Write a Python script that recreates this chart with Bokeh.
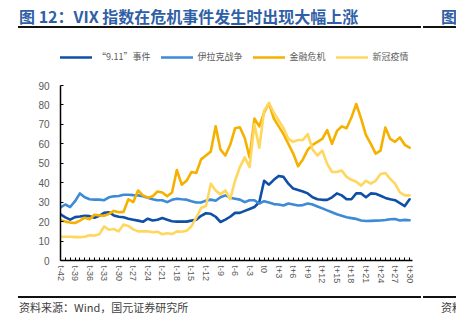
from bokeh.plotting import figure
from bokeh.layouts import column
from bokeh.models import Range1d, Legend, LegendItem, FixedTicker, Div
from bokeh.embed import file_html
from bokeh.resources import INLINE

# ---- data ----
offsets = list(range(-42, 31))
t_labels = ["t%+d" % o if o != 0 else "t0" for o in offsets]
series_names = ["“9.11”事件", "伊拉克战争", "金融危机", "新冠疫情"]
title_text = "图 12：VIX 指数在危机事件发生时出现大幅上涨"
source_text = "资料来源：Wind，国元证券研究所"

vix_911 = [23.8, 22.2, 21.0, 22.3, 22.6, 23.0, 22.8, 22.0, 23.0, 24.5,
           24.8, 23.2, 22.5, 22.2, 21.5, 21.0, 20.5, 19.9, 21.5, 20.6,
           21.0, 21.8, 21.0, 20.2, 20.0, 20.0, 20.0, 20.5, 21.0, 23.0,
           24.3, 24.0, 22.5, 19.8, 21.0, 22.5, 24.5, 24.5, 25.5, 26.5,
           27.5, 30.0, 41.0, 39.0, 41.5, 43.5, 43.0, 39.5, 37.0, 36.3,
           35.5, 34.5, 32.5, 31.5, 31.2, 31.2, 32.5, 34.5, 33.5, 31.5,
           31.5, 34.5, 34.5, 32.5, 34.5, 34.3, 33.3, 32.2, 31.5, 31.0,
           29.5, 28.0, 31.5]

vix_iraq = [27.3, 28.8, 27.5, 30.5, 34.5, 32.5, 31.5, 31.3, 31.3, 31.0,
            32.5, 33.0, 33.2, 33.8, 33.8, 33.6, 33.5, 33.0, 32.3, 31.5,
            31.0, 31.0, 30.0, 31.2, 31.8, 31.5, 31.3, 30.5, 29.8, 29.8,
            30.8, 31.3, 30.7, 32.5, 33.5, 32.3, 31.8, 31.3, 30.0, 31.0,
            31.0, 29.3, 30.5, 29.8, 29.0, 28.8, 28.3, 29.3, 28.8, 28.3,
            28.5, 29.3, 28.8, 27.8, 26.8, 25.8, 24.8, 23.8, 23.0, 22.2,
            21.8, 21.4, 20.6, 20.3, 20.4, 20.5, 20.6, 20.8, 21.2, 21.3,
            20.6, 20.9, 20.7]

vix_gfc = [20.7, 20.0, 19.5, 19.3, 20.5, 22.0, 21.2, 23.5, 23.2, 23.0,
           24.0, 25.5, 24.8, 25.0, 31.5, 30.0, 36.0, 33.5, 32.3, 33.0,
           35.5, 35.0, 33.0, 35.0, 46.5, 39.0, 41.0, 45.5, 45.0, 52.0,
           54.0, 56.0, 69.0, 57.0, 54.0, 59.5, 68.0, 68.5, 63.0, 53.0,
           73.0, 69.0, 76.0, 81.0, 73.0, 69.0, 65.0, 60.0, 55.0, 48.5,
           52.0, 57.0, 59.5, 61.0, 62.5, 67.0, 60.0, 66.5, 69.0, 68.0,
           73.5, 80.5, 73.0, 64.5, 60.0, 55.0, 56.5, 68.4, 62.5, 61.0,
           63.3, 59.5, 58.0]

vix_covid = [12.2, 12.2, 12.2, 12.0, 12.0, 12.2, 13.0, 12.8, 13.5, 17.5,
             15.8, 16.2, 15.0, 18.5, 17.8, 16.0, 15.0, 15.0, 15.0, 14.5,
             14.8, 13.5, 14.0, 13.6, 15.0, 14.8, 15.3, 17.5, 22.0, 27.0,
             28.0, 39.5, 36.0, 34.0, 36.0, 31.5, 41.0, 48.0, 53.0, 48.0,
             70.0, 58.0, 77.0, 81.0, 76.0, 72.0, 68.0, 62.5, 61.0, 62.0,
             62.0, 65.0, 57.0, 54.0, 56.5, 49.7, 45.5, 45.5, 46.3, 43.0,
             41.5, 40.5, 38.5, 41.0, 39.5, 41.0, 44.5, 45.0, 42.0, 39.5,
             35.0, 33.5, 33.5]

colors = ["#0F4FA6", "#3D8AD6", "#F5B000", "#FFD75E"]
CJK = "Noto Sans CJK SC"
W = 456
TOP_H = 32
BOT_H = 28
MAIN_H = 323 - TOP_H - BOT_H
FRAME_TOP = 48      # canvas y of frame top (legend lives in the upper strip)
Y0, Y90 = 260, 85   # canvas y of value 0 and value 90
y_max = 90 * (Y0 - FRAME_TOP) / (Y0 - Y90)

# ---- header (title + rule) ----
header = Div(width=W, height=TOP_H, margin=0, text=(
    '<div style="position:relative;width:456px;height:32px;overflow:hidden;'
    'font-family:\'Noto Sans CJK SC\';">'
    '<span style="position:absolute;left:19px;top:5px;font-size:16px;line-height:22px;'
    'font-weight:bold;color:#2F5FA6;white-space:nowrap;">' + title_text + '</span>'
    '<span style="position:absolute;left:441px;top:5px;font-size:16px;line-height:22px;'
    'font-weight:bold;color:#2F5FA6;white-space:nowrap;">图</span>'
    '<div style="position:absolute;left:18px;top:26px;width:403px;height:2px;background:#111;"></div>'
    '<div style="position:absolute;left:423px;top:26px;width:40px;height:2px;background:#111;"></div>'
    '</div>'))

# ---- main chart ----
xs = list(range(len(offsets)))
p = figure(width=W, height=MAIN_H, output_backend="svg", toolbar_location=None,
           x_range=Range1d(0, 72.6), y_range=Range1d(0, y_max),
           min_border_left=60, min_border_right=44,
           min_border_top=FRAME_TOP - TOP_H, min_border_bottom=(323 - BOT_H) - Y0)
p.outline_line_color = None
p.xgrid.visible = False
p.ygrid.visible = False
p.background_fill_color = "white"
p.border_fill_color = "white"

renderers = []
for ys, c in zip([vix_911, vix_iraq, vix_gfc, vix_covid], colors):
    renderers.append(p.line(xs, ys, line_color=c, line_width=2.6,
                            line_join="round", line_cap="round"))

p.yaxis.bounds = (0, 90)
p.yaxis.ticker = FixedTicker(ticks=list(range(0, 91, 10)))
p.yaxis.axis_line_color = "black"
p.yaxis.axis_line_width = 1.5
p.yaxis.major_tick_in = 3
p.yaxis.major_tick_out = 0
p.yaxis.minor_tick_line_color = None
p.yaxis.major_tick_line_color = "black"
p.yaxis.major_label_standoff = 11
p.yaxis.major_label_text_font = "Liberation Sans"
p.yaxis.major_label_text_font_size = "10px"
p.yaxis.major_label_text_color = "#595959"

p.xaxis.ticker = FixedTicker(ticks=xs)
p.xaxis.major_label_overrides = {i: (t_labels[i] if i % 3 == 0 else "") for i in xs}
p.xaxis.major_label_orientation = "vertical"
p.xaxis.axis_line_color = "black"
p.xaxis.axis_line_width = 1.5
p.xaxis.major_tick_in = 3
p.xaxis.major_tick_out = 0
p.xaxis.minor_tick_line_color = None
p.xaxis.major_tick_line_color = "black"
p.xaxis.major_label_standoff = 5
p.xaxis.major_label_text_font = "Liberation Sans"
p.xaxis.major_label_text_font_size = "9px"
p.xaxis.major_label_text_color = "#595959"

legend = Legend(items=[LegendItem(label=n, renderers=[r]) for n, r in zip(series_names, renderers)],
                orientation="horizontal", location=(0, Y0 - 63),
                glyph_width=32, glyph_height=12, label_height=12, label_standoff=5,
                spacing=10, padding=0, margin=0,
                border_line_alpha=0, background_fill_alpha=0,
                label_text_font=CJK, label_text_font_size="9px",
                label_text_color="#595959")
p.add_layout(legend)

# ---- footer (rule + source) ----
footer = Div(width=W, height=BOT_H, margin=0, text=(
    '<div style="position:relative;width:456px;height:28px;overflow:hidden;'
    'font-family:\'Noto Sans CJK SC\';">'
    '<div style="position:absolute;left:18px;top:1px;width:403px;height:2px;background:#111;"></div>'
    '<div style="position:absolute;left:423px;top:1px;width:40px;height:2px;background:#111;"></div>'
    '<span style="position:absolute;left:19px;top:4px;font-size:11px;line-height:16px;'
    'color:#404040;white-space:nowrap;">' + source_text + '</span>'
    '<span style="position:absolute;left:441px;top:4px;font-size:11px;line-height:16px;'
    'color:#404040;white-space:nowrap;">资料来源</span>'
    '</div>'))

layout = column(header, p, footer, spacing=0)
open("out.html", "w").write(file_html(layout, INLINE))
